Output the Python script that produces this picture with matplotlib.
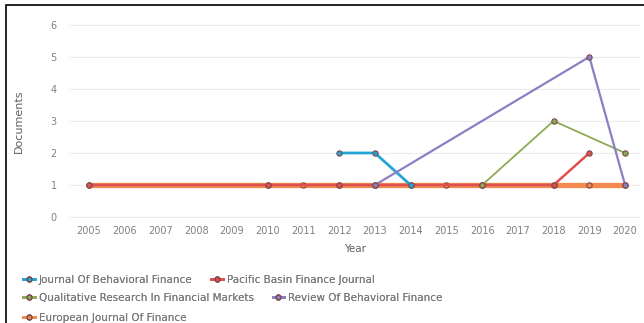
import matplotlib.pyplot as plt
from matplotlib.lines import Line2D

years = ["2005", "2006", "2007", "2008", "2009", "2010", "2011", "2012",
         "2013", "2014", "2015", "2016", "2017", "2018", "2019", "2020"]

jbf_years = ["2012", "2013", "2014"]
jbf_vals = [2, 2, 1]

pac_years = ["2005", "2010", "2012", "2013", "2016", "2018", "2019"]
pac_vals = [1, 1, 1, 1, 1, 1, 2]

qual_years = ["2016", "2018", "2020"]
qual_vals = [1, 3, 2]

rev_years = ["2013", "2019", "2020"]
rev_vals = [1, 5, 1]

eur_years = ["2005", "2010", "2011", "2012", "2013", "2014", "2015",
             "2016", "2018", "2019", "2020"]
eur_vals = [1, 1, 1, 1, 1, 1, 1, 1, 1, 1, 1]

series = [
    ("European Journal Of Finance", eur_years, eur_vals, "#f28a4e", 3.8),
    ("Pacific Basin Finance Journal", pac_years, pac_vals, "#e0504f", 1.8),
    ("Journal Of Behavioral Finance", jbf_years, jbf_vals, "#23a6d5", 2.0),
    ("Qualitative Research In Financial Markets", qual_years, qual_vals, "#8dab55", 1.3),
    ("Review Of Behavioral Finance", rev_years, rev_vals, "#8c7fc4", 1.6),
]

fig = plt.figure(figsize=(6.44, 3.23), dpi=100)
ax = fig.add_axes([0.1076, 0.323, 0.888, 0.605])

pos = {y: i for i, y in enumerate(years)}
colors = {}
for name, xs, vals, color, lw in series:
    xi = [pos[x] for x in xs]
    ax.plot(xi, vals, color=color, lw=lw, marker="o", ms=3.8,
            mfc=color, mec="#7a4a4a", mew=0.8, zorder=3)
    colors[name] = color

ax.set_xlim(-0.55, len(years) - 0.55)
ax.set_ylim(-0.05, 6.05)
ax.set_xticks(range(len(years)))
ax.set_xticklabels(years)
ax.set_yticks(range(0, 7))
ax.tick_params(length=0, labelsize=7, colors="#808080")
ax.tick_params(axis="y", pad=9)
ax.tick_params(axis="x", pad=5)
ax.grid(axis="y", color="#ececec", lw=0.8)
ax.set_axisbelow(True)
for s in ax.spines.values():
    s.set_visible(False)
ax.set_ylabel("Documents", fontsize=8, color="#606060", labelpad=19)
ax.set_xlabel("Year", fontsize=7.5, color="#606060", labelpad=6)

# legend laid out in rows like the original (flow layout)
rows = [
    (["Journal Of Behavioral Finance", "Pacific Basin Finance Journal"], 0.133),
    (["Qualitative Research In Financial Markets", "Review Of Behavioral Finance"], 0.077),
    (["European Journal Of Finance"], 0.016),
]
for names, yy in rows:
    hs = [Line2D([0], [0], color=colors[n], lw=2, marker="o", ms=3.5,
                 mec="#7a4a4a") for n in names]
    leg = fig.legend(hs, names, loc="center left", bbox_to_anchor=(0.036, yy),
                     ncol=len(names), frameon=False, fontsize=7.5,
                     labelcolor="#7a7a7a", handlelength=1.1, handletextpad=0.4,
                     columnspacing=1.8, borderaxespad=0, borderpad=0)
    fig.add_artist(leg)

fig.add_artist(plt.Rectangle((0.009, -0.05), 1.05, 1.035, transform=fig.transFigure,
                             fill=False, ec="black", lw=1.2))

fig.savefig("out.png", dpi=100)
